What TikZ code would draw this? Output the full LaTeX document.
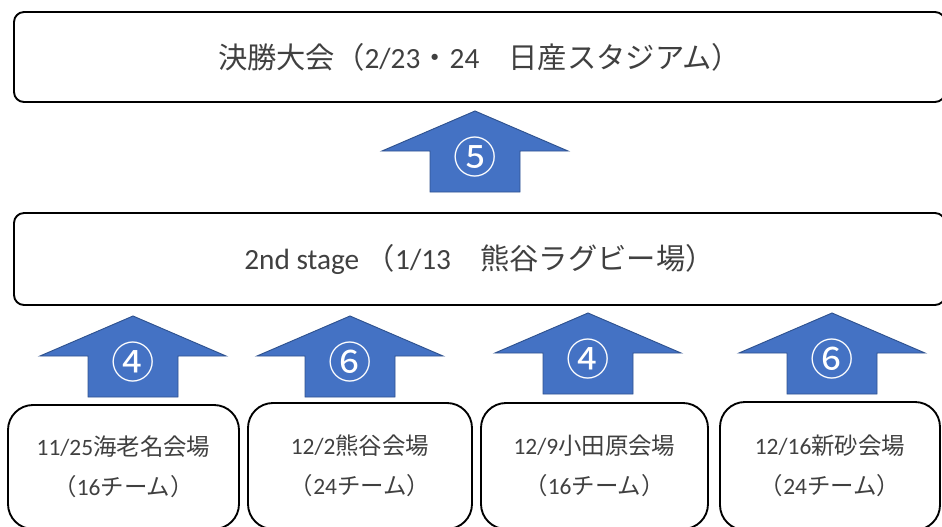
\documentclass[tikz,border=0pt]{standalone}
\usepackage{fontspec}
\setmainfont{Carlito}
\newfontfamily\jp{Noto Sans CJK JP}
\usepackage{tikz}

\definecolor{arrowblue}{HTML}{4472C4}
\definecolor{arrowedge}{HTML}{2F528F}
\definecolor{textgray}{HTML}{404040}

\tikzset{
  stagebox/.style={draw, line width=1.6pt, rounded corners=0.3cm, text=textgray,
    font=\fontsize{25}{29}\selectfont},
  venuebox/.style={draw, line width=1.6pt, rounded corners=0.75cm, text=textgray,
    align=center, font=\fontsize{20}{34}\selectfont},
  blockarrow/.style={fill=arrowblue, draw=arrowedge, line width=0.8pt},
  countlabel/.style={text=white, font=\jp\fontsize{37}{40}\selectfont}
}

\begin{document}
\begin{tikzpicture}[x=0.03cm, y=-0.03cm]
                \useasboundingbox (0,0) rectangle (942,526);
                \clip (0,0) rectangle (942,526);
                % stages
                \node[stagebox, minimum width=931*0.03cm, minimum height=90*0.03cm] (final) at (479.5,57)
                  {{\jp 決勝大会（}2/23{\jp ・}24{\jp 　日産スタジアム）}};
                \node[stagebox, minimum width=931*0.03cm, minimum height=92*0.03cm] (second) at (479.5,259)
                  {2nd stage {\jp （}1/13{\jp 　熊谷ラグビー場）}};
                % venues
                \node[venuebox, minimum width=231*0.03cm, minimum height=124*0.03cm] (ebina) at (123.5,467)
                  {11/25{\jp 海老名会場}\\{\jp （}16{\jp チーム）}};
                \node[venuebox, minimum width=224*0.03cm, minimum height=126*0.03cm] (kumagaya) at (360,466)
                  {12/2{\jp 熊谷会場}\\{\jp （}24{\jp チーム）}};
                \node[venuebox, minimum width=227*0.03cm, minimum height=126*0.03cm] (odawara) at (594.5,466)
                  {12/9{\jp 小田原会場}\\{\jp （}16{\jp チーム）}};
                \node[venuebox, minimum width=220*0.03cm, minimum height=128*0.03cm] (shinsuna) at (830,466)
                  {12/16{\jp 新砂会場}\\{\jp （}24{\jp チーム）}};
                % block arrows
                \foreach \cx/\ty/\num/\name in {475/111/⑤/up5, 133/316/④/upA, 350/316/⑥/upB, 588/313/④/upC, 832/313/⑥/upD}{
                  \draw[blockarrow] (\cx,\ty) -- ++(93,40) -- ++(-48,0) -- ++(0,41) -- ++(-90,0)
                    -- ++(0,-41) -- ++(-48,0) -- cycle;
                  \node[countlabel] (\name) at (\cx,\ty+46) {\num};
                }
            \end{tikzpicture}
\end{document}
